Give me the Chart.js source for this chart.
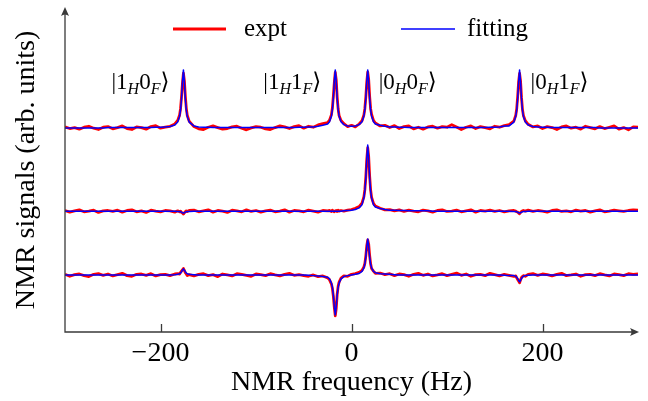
<!DOCTYPE html>
<html>
<head>
<meta charset="utf-8">
<script src="https://cdn.jsdelivr.net/npm/chart.js@4"></script>
<style>
  html, body { margin: 0; padding: 0; background: #fff; }
</style>
</head>
<body>
<canvas id="nmrChart" width="648" height="401"></canvas>
<script>
// frequency grid (Hz), denser around the four lines
const freq = [
  -300,-295,-290,-285,-280,-275,-270,-265,-260,-255,-250,-245,-240,-235,-230,-225,-220,-215,-210,-205,-200,-195,-190,-185,
  -182,-180,-179,-178,-177,-176,-175,-174,-173,-172,-170,
  -165,-160,-155,-150,-145,-140,-135,-130,-125,-120,-115,-110,-105,-100,-95,-90,-85,-80,-75,-70,-65,-60,-55,-50,-45,-40,-35,-30,-25,
  -23,-21,-20,-19,-18,-17,-16,-15,-14,-13,-11,
  -8,-4,0,4,8,
  11,13,14,15,16,17,18,19,20,21,23,
  25,30,35,40,45,50,55,60,65,70,75,80,85,90,95,100,105,110,115,120,125,130,135,140,145,150,155,160,165,
  170,172,173,174,175,176,177,178,179,180,182,
  185,190,195,200,205,210,215,220,225,230,235,240,245,250,255,260,265,270,275,280,285,290,295,300
];

// vertical offsets of the three spectra
const baselines = [63.0, 37.3, 17.6];

// top spectrum
const exptTop = [
  0.3,-0.2,0.1,-0.4,0.2,0.5,-0.1,-0.5,0.2,0.4,-0.3,0.1,0.6,-0.2,-0.5,0.3,0.1,-0.4,0.4,0.7,-0.1,0.2,0.5,1.2,
  2.3,4.0,6.0,9.6,13.8,16.9,14.6,9.8,6.1,3.9,2.1,
  0.4,-0.3,-0.5,0.2,0.6,0.1,-0.4,-0.2,0.3,0.5,-0.1,-0.6,0.0,0.4,0.2,-0.3,-0.5,0.1,0.6,0.3,-0.2,0.4,0.7,-0.1,0.5,0.2,0.9,1.3,1.6,
  2.4,4.1,6.2,9.8,14.0,17.1,14.8,9.5,5.9,3.8,2.3,
  1.3,0.4,0.8,0.3,1.2,
  2.2,4.0,6.0,9.6,14.1,17.2,14.9,9.7,6.0,4.2,2.3,
  1.5,0.6,0.8,0.1,0.7,-0.2,0.4,0.6,-0.3,0.2,-0.4,0.3,0.5,-0.1,0.4,0.2,1.0,0.3,-0.5,0.2,0.6,-0.2,0.4,0.1,-0.3,0.5,0.2,0.7,1.0,
  2.1,3.9,5.9,9.7,14.2,16.8,14.5,9.4,5.8,3.8,2.2,
  1.1,0.3,0.6,-0.2,0.4,0.1,-0.5,0.3,0.6,-0.1,0.2,-0.4,0.5,0.1,-0.3,0.4,-0.2,0.2,0.6,-0.4,0.1,-0.6,0.3,0.2
];
const fitTop = [
  0,0,0,0,0,0,0,0,0,0.1,0.1,0.1,0.1,0.1,0.1,0.1,0.1,0.1,0.1,0.2,0.2,0.3,0.4,0.9,
  1.8,3.6,5.5,9.0,14.3,17.9,14.3,9.0,5.5,3.6,1.8,
  0.6,0.3,0.2,0.2,0.1,0.1,0.1,0.1,0.1,0.1,0.1,0.1,0.1,0.1,0.1,0.1,0.1,0.1,0.1,0.1,0.1,0.1,0.2,0.2,0.3,0.3,0.5,0.8,1.2,
  1.9,3.7,5.6,9.1,14.4,17.9,14.4,9.1,5.6,3.7,1.9,
  1.0,0.6,0.5,0.6,1.0,
  1.9,3.7,5.6,9.1,14.4,17.9,14.4,9.1,5.6,3.7,1.9,
  1.2,0.8,0.5,0.3,0.3,0.2,0.2,0.1,0.1,0.1,0.1,0.1,0.1,0.1,0.1,0.1,0.1,0.1,0.1,0.1,0.1,0.1,0.1,0.1,0.2,0.2,0.3,0.6,
  0.6,
  1.8,3.6,5.5,9.0,14.3,17.9,14.3,9.0,5.5,3.6,1.8,
  0.9,0.4,0.3,0.2,0.2,0.1,0.1,0.1,0.1,0.1,0.1,0.1,0.1,0.1,0.1,0,0,0,0,0,0,0,0,0
];

// middle spectrum
const exptMid = [
  0.2,-0.3,0.1,0.4,-0.2,0.0,0.3,-0.4,0.1,0.2,-0.1,0.3,-0.3,0.2,0.4,-0.2,0.1,-0.4,0.3,0.0,-0.2,0.2,0.1,-0.3,
  0.1,-0.2,0.0,-0.4,-0.6,-0.9,-0.5,-0.2,0.1,-0.1,0.2,
  0.3,-0.2,0.1,0.4,-0.3,0.2,0.0,-0.4,0.3,0.1,-0.2,0.4,-0.1,0.2,-0.3,0.1,0.3,-0.2,0.0,0.4,-0.3,0.2,0.1,-0.2,0.3,0.0,-0.3,0.2,0.1,
  0.2,-0.1,0.3,0.0,-0.2,0.1,0.2,-0.1,0.3,0.0,0.2,
  0.0,0.3,0.5,0.9,1.4,
  2.5,4.5,6.7,10.6,16.0,19.6,16.8,10.8,6.6,4.3,2.4,
  1.6,0.9,0.4,0.5,0.1,0.4,-0.1,0.3,0.0,-0.2,0.3,0.1,-0.3,0.2,0.4,-0.1,0.0,0.3,-0.2,0.1,0.4,-0.3,0.2,0.0,0.3,-0.1,0.2,-0.2,0.1,
  0.2,0.0,-0.2,-0.3,-0.6,-0.8,-0.4,-0.1,0.1,0.2,0.0,
  0.3,-0.1,0.2,0.0,-0.3,0.2,0.4,-0.1,0.1,-0.2,0.3,0.0,0.2,-0.3,0.1,0.4,-0.2,0.0,0.3,0.1,-0.1,0.2,0.4,0.3
];
const fitMid = [
  0,0,0,0,0,0,0,0,0,0,0,0,0,0,0,0,0,0,0,0,0,0,0,0,
  -0.1,-0.1,-0.2,-0.3,-0.5,-0.6,-0.5,-0.3,-0.2,-0.1,-0.1,
  0,0,0,0,0,0,0,0,0,0,0,0,0,0,0,0,0,0,0,0,0,0,0,0,0,0,0,0,0,
  0,0,0,0,0,0,0,0,0,0,0,
  0.1,0.2,0.3,0.5,1.0,
  2.0,4.1,6.3,10.2,16.3,20.4,16.3,10.2,6.3,4.1,2.0,
  1.3,0.8,0.5,0.3,0.3,0.2,0.2,0.1,0.1,0.1,0.1,0.1,0,0,0,0,0,0,0,0,0,0,0,0,0,0,0,0,0,
  -0.1,-0.1,-0.2,-0.3,-0.5,-0.6,-0.5,-0.3,-0.2,-0.1,-0.1,
  0,0,0,0,0,0,0,0,0,0,0,0,0,0,0,0,0,0,0,0,0,0,0,0
];

// bottom spectrum
const exptBot = [
  0.2,-0.4,0.1,0.3,-0.2,-0.5,0.2,0.4,-0.1,0.3,-0.3,0.1,0.5,-0.2,-0.4,0.2,0.3,-0.1,0.4,-0.3,0.1,0.2,-0.2,0.3,
  0.4,0.3,0.8,1.2,1.6,2.0,1.4,0.7,0.3,-0.2,0.1,
  -0.3,0.2,0.4,-0.2,0.1,-0.5,0.3,0.0,-0.3,0.4,0.2,-0.1,-0.4,0.3,0.1,-0.2,0.4,0.0,-0.3,0.2,0.5,-0.1,0.1,-0.2,-0.4,0.0,-0.5,-0.3,-0.9,
  -1.5,-2.8,-4.2,-6.6,-10.0,-12.6,-10.4,-6.0,-3.5,-2.2,-1.0,
  -0.3,-0.4,0.2,0.4,0.8,
  1.4,2.5,3.6,5.9,9.0,10.8,9.5,6.0,3.5,2.0,1.2,
  0.5,0.6,0.1,0.4,-0.2,0.3,0.1,-0.4,0.2,0.5,-0.1,0.3,-0.3,0.0,0.4,-0.2,0.2,0.6,-0.1,0.3,-0.4,0.1,0.2,-0.2,0.5,0.1,-0.3,0.2,-0.1,
  -0.4,-0.3,-0.9,-1.4,-1.9,-2.4,-1.5,-0.8,-0.5,-0.2,-0.4,
  0.2,0.4,-0.1,0.3,0.1,-0.3,0.2,0.5,-0.2,0.0,0.3,-0.4,0.1,0.2,-0.2,0.4,0.0,-0.3,0.3,0.1,-0.2,0.4,0.2,0.3
];
const fitBot = [
  0,0,0,0,0,0,0,0,0,0,0,0,0,0,0,0,0,0,0,0,0,0,0,0.1,
  0.2,0.4,0.6,1.0,1.5,1.9,1.5,1.0,0.6,0.4,0.2,
  0.1,0,0,0,0,0,0,0,0,0,0,0,0,0,0,0,0,0,0,0,0,0,0,0,-0.1,-0.2,-0.3,-0.5,-0.7,
  -1.2,-2.5,-3.8,-6.2,-9.8,-12.3,-9.8,-6.2,-3.8,-2.5,-1.2,
  -0.5,-0.2,0.0,0.2,0.45,
  1.1,2.2,3.4,5.6,8.9,11.1,8.9,5.6,3.4,2.2,1.1,
  0.7,0.4,0.3,0.2,0.1,0,0,0,0,0,0,0,0,0,0,0,0,0,0,0,0,0,0,0,0,0,0,-0.1,-0.2,
  -0.2,-0.4,-0.7,-1.1,-1.7,-2.1,-1.7,-1.1,-0.7,-0.4,-0.2,
  -0.1,0,0,0,0,0,0,0,0,0,0,0,0,0,0,0,0,0,0,0,0,0,0,0
];

const tickValues = [-200, 0, 200];

// state labels next to the lines of the top spectrum
const ketFreqs = [-176, -17, 17, 176];
const ketH = ['1', '1', '0', '0'];
const ketF = ['0', '1', '0', '1'];
const ketOnLeft = [true, true, false, false];

const legendNames = ['expt', 'fitting'];
const exptColor = '#ff0000';
const fitColor = '#0000ff';
const axisColor = '#3a3a3a';
const serif = '"Liberation Serif", "DejaVu Serif", serif';

const toPoints = function (values, offset) {
    let pts = [];
    for (var i = 0; i < freq.length; i++) {
        pts.push({ x: freq[i], y: offset + values[i] });
    }
    return pts;
};

const spectra = [[exptTop, fitTop], [exptMid, fitMid], [exptBot, fitBot]];
let datasets = [];
spectra.forEach(function (s, k) {
    datasets.push({
        label: legendNames[0], data: toPoints(s[0], baselines[k]),
        borderColor: exptColor, borderWidth: 2.8, borderJoinStyle: 'round',
        pointRadius: 0, order: 2
    });
    datasets.push({
        label: legendNames[1], data: toPoints(s[1], baselines[k]),
        borderColor: fitColor, borderWidth: 1.5, borderJoinStyle: 'round',
        pointRadius: 0, order: 1
    });
});

// axes with arrows, inward ticks, legend and state labels
const decorations = {
    id: 'decorations',
    afterDatasetsDraw(chart) {
        const ctx = chart.ctx;
        const a = chart.chartArea;
        const xs = chart.scales.x;
        ctx.save();
        ctx.strokeStyle = axisColor;
        ctx.fillStyle = axisColor;
        ctx.lineWidth = 1.3;
        ctx.beginPath();
        ctx.moveTo(a.left, a.top + 4);
        ctx.lineTo(a.left, a.bottom);
        ctx.lineTo(a.right - 4, a.bottom);
        ctx.stroke();
        tickValues.forEach(function (v) {
            const px = Math.round(xs.getPixelForValue(v)) + 0.5;
            ctx.beginPath();
            ctx.moveTo(px, a.bottom);
            ctx.lineTo(px, a.bottom - 8);
            ctx.stroke();
        });
        // arrow heads
        ctx.beginPath();
        ctx.moveTo(a.right + 1, a.bottom);
        ctx.lineTo(a.right - 8, a.bottom - 4);
        ctx.quadraticCurveTo(a.right - 5, a.bottom, a.right - 8, a.bottom + 4);
        ctx.closePath();
        ctx.fill();
        ctx.beginPath();
        ctx.moveTo(a.left, a.top - 1);
        ctx.lineTo(a.left - 4, a.top + 8);
        ctx.quadraticCurveTo(a.left, a.top + 5, a.left + 4, a.top + 8);
        ctx.closePath();
        ctx.fill();

        // legend
        ctx.textBaseline = 'alphabetic';
        ctx.textAlign = 'left';
        ctx.font = '25px ' + serif;
        ctx.lineWidth = 3;
        ctx.strokeStyle = exptColor;
        ctx.beginPath(); ctx.moveTo(173, 29); ctx.lineTo(226, 29); ctx.stroke();
        ctx.fillStyle = '#000';
        ctx.fillText(legendNames[0], 244, 36);
        ctx.lineWidth = 1.5;
        ctx.strokeStyle = fitColor;
        ctx.beginPath(); ctx.moveTo(401, 29); ctx.lineTo(455, 29); ctx.stroke();
        ctx.fillText(legendNames[1], 467, 36);

        // kets
        const big = '23px ' + serif;
        const sub = 'italic 16px ' + serif;
        for (var i = 0; i < ketFreqs.length; i++) {
            const parts = [['|', big, 0], [ketH[i], big, 0], ['H', sub, 5], [ketF[i], big, 0], ['F', sub, 5], ['\u27E9', big, 0]];
            let w = 0;
            parts.forEach(function (p) { ctx.font = p[1]; w += ctx.measureText(p[0]).width; });
            const px = xs.getPixelForValue(ketFreqs[i]);
            let x = ketOnLeft[i] ? px - 14 - w : px + 11;
            parts.forEach(function (p) {
                ctx.font = p[1];
                ctx.fillText(p[0], x, 89 + p[2]);
                x += ctx.measureText(p[0]).width;
            });
        }
        ctx.restore();
    }
};

const nmrChart = new Chart(document.getElementById('nmrChart'), {
    type: 'line',
    data: { datasets: datasets },
    plugins: [decorations],
    options: {
        responsive: false,
        animation: false,
        layout: { padding: { left: 10, right: 10, top: 8, bottom: 0 } },
        plugins: { legend: { display: false }, tooltip: { enabled: false } },
        scales: {
            x: {
                type: 'linear', min: -300, max: 300,
                grid: { display: false, drawTicks: false },
                border: { display: false },
                afterBuildTicks: function (scale) {
                    scale.ticks = tickValues.map(function (v) { return { value: v }; });
                },
                afterFit: function (scale) { scale.height = 69; },
                ticks: {
                    padding: 5, color: '#000', maxRotation: 0,
                    font: { family: serif, size: 28 },
                    callback: function (v) { return v < 0 ? '\u2212' + Math.abs(v) : String(v); }
                },
                title: {
                    display: true, text: 'NMR frequency (Hz)', color: '#000',
                    font: { family: serif, size: 28 }, padding: { top: 0, bottom: 2 }
                }
            },
            y: {
                type: 'linear', min: 0, max: 100,
                grid: { display: false, drawTicks: false },
                border: { display: false },
                ticks: { display: false },
                afterFit: function (scale) { scale.width = 55; },
                title: {
                    display: true, text: 'NMR signals (arb. units)', color: '#000',
                    font: { family: serif, size: 28 }, padding: { top: 0, bottom: 0 }
                }
            }
        }
    }
});
</script>
</body>
</html>
